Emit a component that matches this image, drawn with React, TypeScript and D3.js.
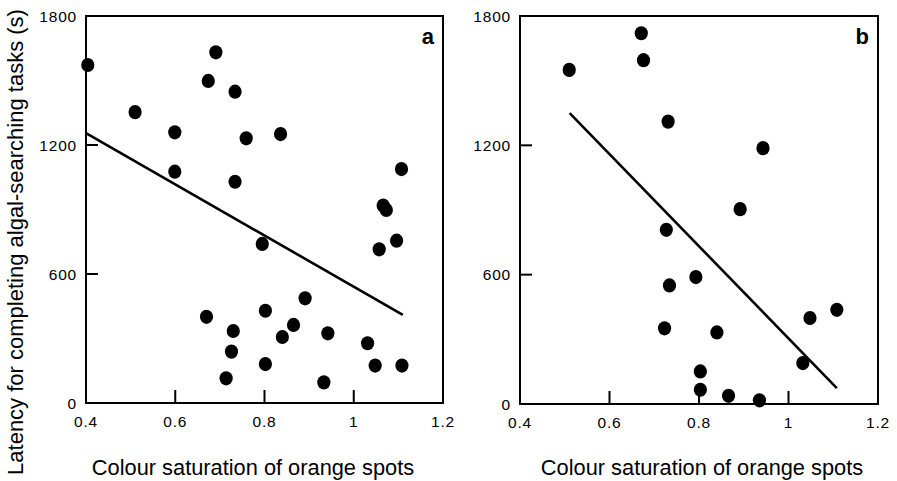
import * as d3 from "d3";

const W = 897;
const H = 481;

// panel a
const aX = [0.404, 0.691, 0.674, 0.734, 0.51, 0.599, 0.759, 0.836, 0.599, 0.734, 1.107, 1.066, 1.073, 1.096, 0.795, 1.057, 0.891, 0.67, 0.802, 0.73, 0.865, 0.84, 0.942, 0.726, 1.031, 0.802, 1.048, 1.108, 0.714, 0.933];
const aY = [1572, 1631, 1498, 1448, 1353, 1259, 1231, 1251, 1076, 1029, 1088, 918, 898, 755, 740, 715, 487, 401, 429, 335, 363, 307, 324, 239, 278, 181, 174, 174, 115, 96];
const aFit = [[0.4, 1255], [1.11, 410]];

// panel b
const bX = [0.671, 0.676, 0.51, 0.731, 0.943, 0.892, 0.727, 0.793, 0.734, 1.108, 1.048, 0.723, 0.84, 1.032, 0.803, 0.803, 0.866, 0.935];
const bY = [1720, 1595, 1550, 1310, 1187, 904, 808, 589, 550, 437, 399, 351, 332, 190, 151, 66, 38, 17];
const bFit = [[0.511, 1349], [1.108, 74]];

const xTicks = [0.4, 0.6, 0.8, 1, 1.2];
const yTicks = [0, 600, 1200, 1800];
const xTitle = "Colour saturation of orange spots";
const yTitle = "Latency for completing algal-searching tasks (s)";

const FONT = "'Liberation Sans', Arial, Helvetica, sans-serif";

type PanelProps = {
  xs: number[];
  ys: number[];
  fit: number[][];
  left: number;
  right: number;
  top: number;
  bottom: number;
  tag: string;
};

const Panel = ({ xs, ys, fit, left, right, top, bottom, tag }: PanelProps) => {
  const x = d3.scaleLinear().domain([0.4, 1.2]).range([left, right]);
  const y = d3.scaleLinear().domain([0, 1800]).range([bottom, top]);
  const line = d3.line<number[]>().x((d) => x(d[0])).y((d) => y(d[1]));

  return (
    <g>
      {xs.map((v, i) => (
        <ellipse key={i} cx={x(v)} cy={y(ys[i])} rx={6.6} ry={7.1} fill="#000" />
      ))}
      <path d={line(fit) || ""} stroke="#000" strokeWidth={2.6} fill="none" />
      <rect x={left} y={top} width={right - left} height={bottom - top} fill="none" stroke="#000" strokeWidth={2} />
      {xTicks.map((t) => (
        <g key={t}>
          <line x1={x(t)} x2={x(t)} y1={bottom} y2={bottom - 13} stroke="#000" strokeWidth={2} />
          <text x={x(t)} y={bottom + 24} textAnchor="middle" fontFamily={FONT} fontSize={15.5} letterSpacing={0.8} fill="#000">
            {t}
          </text>
        </g>
      ))}
      {yTicks.map((t) => (
        <g key={t}>
          <line x1={left} x2={left + 12} y1={y(t)} y2={y(t)} stroke="#000" strokeWidth={2} />
          <text x={left - 9} y={y(t)} dy="0.36em" textAnchor="end" fontFamily={FONT} fontSize={15.5} letterSpacing={0.8} fill="#000">
            {t}
          </text>
        </g>
      ))}
      <text x={right - 9} y={top + 28} textAnchor="end" fontFamily={FONT} fontSize={22} fontWeight={700} fill="#000">
        {tag}
      </text>
    </g>
  );
};

export default function App() {
  return (
    <svg width={W} height={H} style={{ position: "absolute", left: 0, top: 0, background: "#fff" }}>
      <rect width={W} height={H} fill="#fff" />
      <Panel xs={aX} ys={aY} fit={aFit} left={86} right={443} top={16} bottom={403} tag="a" />
      <Panel xs={bX} ys={bY} fit={bFit} left={520} right={878} top={16} bottom={404} tag="b" />
      <text x={253} y={475} textAnchor="middle" fontFamily={FONT} fontSize={21.8} fill="#000">
        {xTitle}
      </text>
      <text x={702} y={475} textAnchor="middle" fontFamily={FONT} fontSize={21.8} fill="#000">
        {xTitle}
      </text>
      <text transform="translate(23,242) rotate(-90)" textAnchor="middle" fontFamily={FONT} fontSize={22} fill="#000">
        {yTitle}
      </text>
    </svg>
  );
}
